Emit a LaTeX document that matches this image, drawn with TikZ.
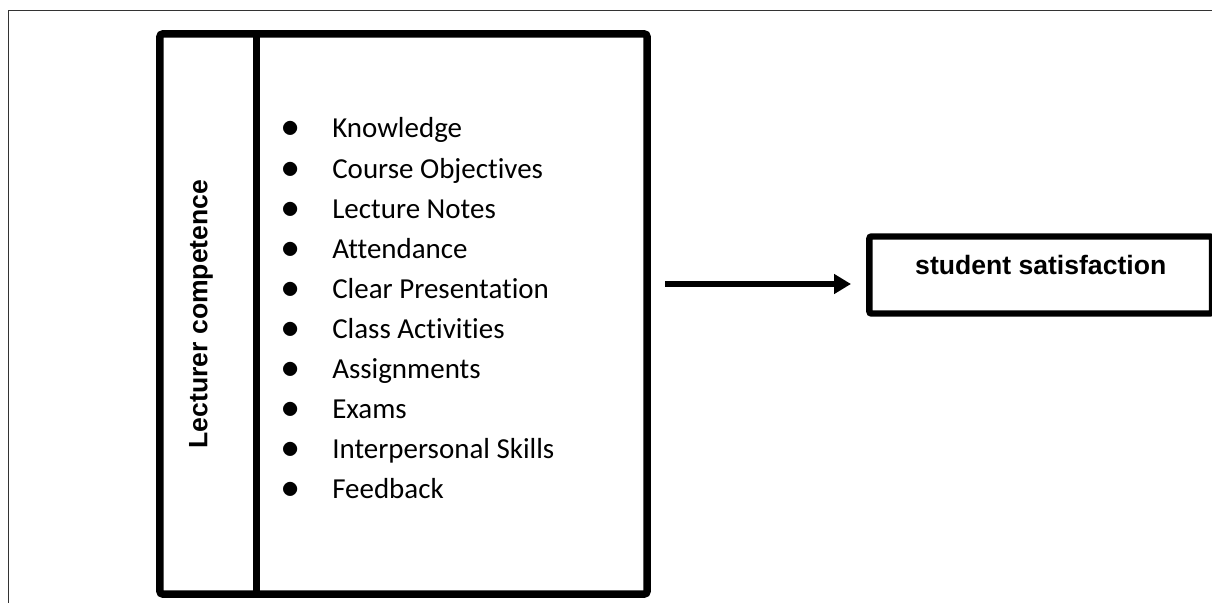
\documentclass[tikz,border=0pt]{standalone}
\usepackage{fontspec}
\setmainfont{Carlito}[Ligatures=NoCommon]
\newfontfamily\arialfont{Liberation Sans}
\usepackage{tikz}
\usetikzlibrary{arrows.meta}

\newcommand{\itemdot}{\makebox[0pt]{\scalebox{1.25}{$\bullet$}}}

\begin{document}
\begin{tikzpicture}[x=0.025cm,y=-0.025cm]
                \tikzstyle{bigbox} = [rectangle, draw=black, line width=5.3pt, rounded corners=2pt, minimum width=12.175cm, minimum height=14cm, inner sep=0pt]
                \tikzstyle{outbox} = [rectangle, draw=black, line width=4.6pt, rounded corners=1.5pt, minimum width=8.5625cm, minimum height=1.925cm, text height=0.48cm, text depth=0.48cm, inner sep=0pt, font=\arialfont\bfseries\fontsize{18.9}{22}\selectfont]
                \tikzstyle{title} = [rotate=90, inner sep=0pt, font=\arialfont\bfseries\fontsize{18.9}{22}\selectfont]
                \tikzstyle{items} = [anchor=base west, inner sep=0pt, font=\fontsize{20.6}{28.45}\selectfont]
                \tikzstyle{arrow} = [line width=4.3pt, -{Triangle[length=12pt,width=13.5pt]}]
                \useasboundingbox (0,0) rectangle (1212,603);
                \draw [line width=1pt, draw=black!80] (8.5,603) -- (8.5,10.5) -- (1212,10.5);

                \node (lc) [bigbox] at (403.5,314) {};
                \draw [line width=5.3pt] ([xshift=2.5cm]lc.north west) -- ([xshift=2.5cm]lc.south west);
                \node (lctitle) [title] at (201,314) {Lecturer competence};
                \node (list) [items] at (290,138) {\begin{tabular}[t]{@{}l@{\hspace{1.05cm}}l@{}}
                    \itemdot & Knowledge\\
                    \itemdot & Course Objectives\\
                    \itemdot & Lecture Notes\\
                    \itemdot & Attendance\\
                    \itemdot & Clear Presentation\\
                    \itemdot & Class Activities\\
                    \itemdot & Assignments\\
                    \itemdot & Exams\\
                    \itemdot & Interpersonal Skills\\
                    \itemdot & Feedback
                \end{tabular}};

                \node (ss) [outbox] at (1040.75,275) {student satisfaction};
                \coordinate (tail) at (665,284);
                \coordinate (head) at (851,284);

                \draw [arrow] (tail) -- (head);
            \end{tikzpicture}
\end{document}
